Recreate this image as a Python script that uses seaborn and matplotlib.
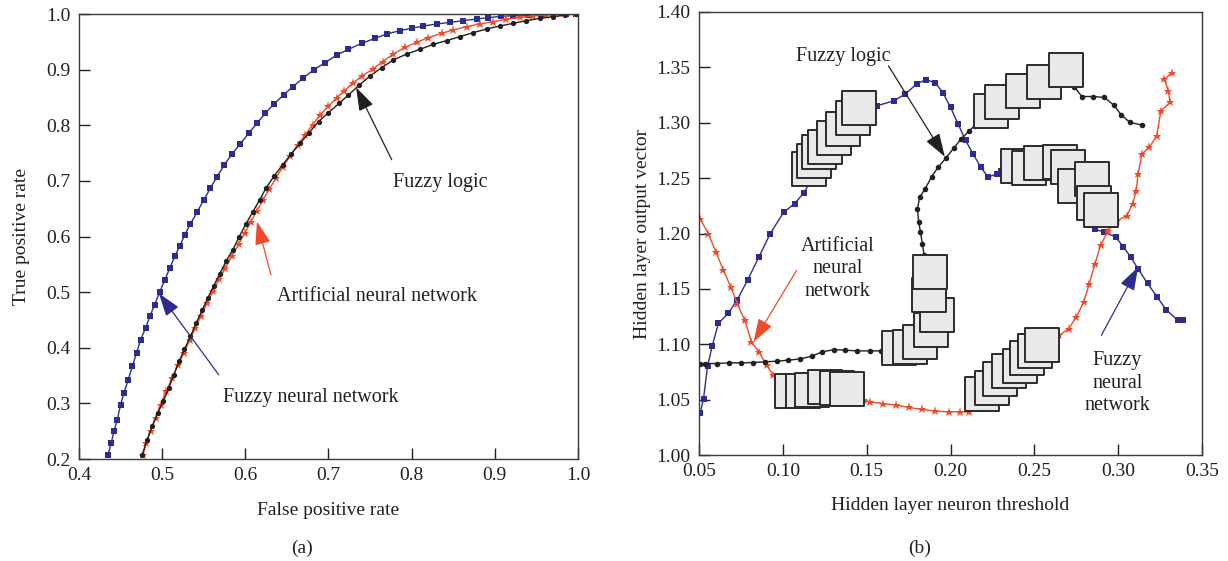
import numpy as np
import pandas as pd
import matplotlib
matplotlib.use("Agg")
import matplotlib.pyplot as plt
from matplotlib.ticker import FormatStrFormatter
import seaborn as sns

# ---------------- (a) ROC-like curves ----------------
fnn_fpr = [0.4348, 0.4388, 0.4420, 0.4460, 0.4500, 0.4540, 0.4592, 0.4640, 0.4692, 0.4740,
           0.4800, 0.4852, 0.4908, 0.4968, 0.5032, 0.5092, 0.5152, 0.5212, 0.5272, 0.5340,
           0.5420, 0.5500, 0.5580, 0.5660, 0.5748, 0.5840, 0.5940, 0.6040, 0.6140, 0.6240,
           0.6340, 0.6460, 0.6572, 0.6692, 0.6820, 0.6960, 0.7100, 0.7240, 0.7400, 0.7560,
           0.7700, 0.7860, 0.8000, 0.8140, 0.8300, 0.8460, 0.8620, 0.8780, 0.8920, 0.9080,
           0.9220, 0.9400, 0.9560, 0.9700, 0.9860, 0.9980]
fnn_tpr = [0.2078, 0.2287, 0.2497, 0.2707, 0.2976, 0.3186, 0.3425, 0.3665, 0.3904, 0.4144,
           0.4353, 0.4563, 0.4772, 0.4994, 0.5222, 0.5431, 0.5641, 0.5832, 0.6030, 0.6228,
           0.6437, 0.6659, 0.6868, 0.7078, 0.7287, 0.7485, 0.7665, 0.7856, 0.8036, 0.8216,
           0.8377, 0.8545, 0.8695, 0.8844, 0.8994, 0.9126, 0.9263, 0.9365, 0.9473, 0.9563,
           0.9641, 0.9701, 0.9743, 0.9784, 0.9820, 0.9850, 0.9880, 0.9910, 0.9934, 0.9958,
           0.9970, 0.9982, 0.9994, 0.9996, 0.9998, 1.0000]

fl_fpr = [0.4760, 0.4820, 0.4880, 0.4948, 0.5012, 0.5080, 0.5140, 0.5204, 0.5268, 0.5340,
          0.5408, 0.5480, 0.5548, 0.5620, 0.5692, 0.5768, 0.5848, 0.5928, 0.6008, 0.6092,
          0.6172, 0.6252, 0.6348, 0.6448, 0.6552, 0.6660, 0.6768, 0.6880, 0.7000, 0.7128,
          0.7240, 0.7372, 0.7500, 0.7640, 0.7780, 0.7940, 0.8100, 0.8260, 0.8420, 0.8580,
          0.8740, 0.8900, 0.9060, 0.9220, 0.9380, 0.9540, 0.9700, 0.9840, 0.9980]
fl_tpr = [0.2078, 0.2347, 0.2587, 0.2826, 0.3036, 0.3275, 0.3515, 0.3754, 0.3976, 0.4204,
          0.4443, 0.4671, 0.4892, 0.5114, 0.5329, 0.5551, 0.5760, 0.6000, 0.6228, 0.6449,
          0.6659, 0.6880, 0.7090, 0.7287, 0.7485, 0.7677, 0.7868, 0.8066, 0.8228, 0.8395,
          0.8545, 0.8725, 0.8886, 0.9036, 0.9174, 0.9281, 0.9365, 0.9455, 0.9521, 0.9593,
          0.9665, 0.9731, 0.9784, 0.9832, 0.9880, 0.9922, 0.9952, 0.9982, 1.0000]

ann_fpr = [0.4772, 0.4808, 0.4860, 0.4920, 0.4980, 0.5048, 0.5120, 0.5192, 0.5260, 0.5332,
           0.5400, 0.5468, 0.5540, 0.5612, 0.5688, 0.5760, 0.5840, 0.5920, 0.5992, 0.6068,
           0.6140, 0.6212, 0.6288, 0.6368, 0.6452, 0.6540, 0.6628, 0.6720, 0.6808, 0.6900,
           0.7000, 0.7100, 0.7192, 0.7292, 0.7400, 0.7532, 0.7652, 0.7780, 0.7920, 0.8060,
           0.8200, 0.8360, 0.8500, 0.8660, 0.8820, 0.8980, 0.9140, 0.9300, 0.9460, 0.9620,
           0.9780, 0.9980]
ann_tpr = [0.2078, 0.2287, 0.2497, 0.2737, 0.2976, 0.3216, 0.3455, 0.3695, 0.3904, 0.4144,
           0.4353, 0.4575, 0.4802, 0.5012, 0.5234, 0.5431, 0.5653, 0.5862, 0.6060, 0.6269,
           0.6461, 0.6659, 0.6850, 0.7048, 0.7257, 0.7449, 0.7647, 0.7826, 0.8006, 0.8186,
           0.8347, 0.8497, 0.8623, 0.8754, 0.8886, 0.9006, 0.9144, 0.9281, 0.9401, 0.9491,
           0.9575, 0.9653, 0.9713, 0.9772, 0.9820, 0.9862, 0.9904, 0.9940, 0.9964, 0.9982,
           1.0000, 1.0000]

# ---------------- (b) hidden layer output ----------------
fnn_thr = [0.0507, 0.0527, 0.0551, 0.0578, 0.0616, 0.0675, 0.0728, 0.0790, 0.0858, 0.0925,
           0.1004, 0.1070, 0.1127, 0.1160, 0.1250, 0.1400, 0.1563, 0.1664, 0.1731, 0.1798,
           0.1854, 0.1910, 0.1955, 0.2000, 0.2045, 0.2090, 0.2134, 0.2180, 0.2224, 0.2280,
           0.2302, 0.2450, 0.2650, 0.2760, 0.2840, 0.2862, 0.2918, 0.2985, 0.3030, 0.3074,
           0.3119, 0.3175, 0.3231, 0.3287, 0.3354, 0.3388]
fnn_out = [1.0375, 1.0510, 1.0800, 1.0980, 1.1190, 1.1280, 1.1400, 1.1580, 1.1790, 1.2000,
           1.2190, 1.2270, 1.2370, 1.2460, 1.2700, 1.2950, 1.3153, 1.3200, 1.3260, 1.3350,
           1.3390, 1.3360, 1.3270, 1.3140, 1.2990, 1.2840, 1.2720, 1.2600, 1.2510, 1.2540,
           1.2568, 1.2600, 1.2600, 1.2450, 1.2250, 1.2040, 1.2010, 1.1970, 1.1880, 1.1790,
           1.1680, 1.1550, 1.1430, 1.1310, 1.1220, 1.1220]

fl_thr = [0.0507, 0.0534, 0.0605, 0.0679, 0.0751, 0.0820, 0.0892, 0.0963, 0.1033, 0.1104,
          0.1172, 0.1234, 0.1306, 0.1373, 0.1445, 0.1519, 0.1586, 0.1700, 0.1820, 0.1900,
          0.1910, 0.1880, 0.1860, 0.1843, 0.1832, 0.1821, 0.1810, 0.1803, 0.1816, 0.1848,
          0.1888, 0.1926, 0.1973, 0.2018, 0.2063, 0.2112, 0.2145, 0.2240, 0.2430, 0.2560,
          0.2690, 0.2739, 0.2783, 0.2851, 0.2918, 0.2974, 0.3018, 0.3070, 0.3142]
fl_out = [1.0826, 1.0826, 1.0826, 1.0832, 1.0832, 1.0835, 1.0841, 1.0847, 1.0856, 1.0868,
          1.0892, 1.0931, 1.0952, 1.0946, 1.0940, 1.0940, 1.0940, 1.0960, 1.1020, 1.1150,
          1.1300, 1.1500, 1.1700, 1.1802, 1.1907, 1.2012, 1.2108, 1.2222, 1.2327, 1.2402,
          1.2514, 1.2598, 1.2682, 1.2769, 1.2853, 1.2928, 1.2973, 1.3100, 1.3290, 1.3370,
          1.3450, 1.3324, 1.3237, 1.3237, 1.3228, 1.3159, 1.3072, 1.3003, 1.2979]

ann_thr = [0.0507, 0.0556, 0.0601, 0.0646, 0.0690, 0.0728, 0.0773, 0.0813, 0.0858, 0.0903,
           0.0943, 0.1100, 0.1350, 0.1485, 0.1519, 0.1597, 0.1675, 0.1754, 0.1832, 0.1910,
           0.1989, 0.2056, 0.2112, 0.2250, 0.2400, 0.2550, 0.2649, 0.2705, 0.2750, 0.2795,
           0.2828, 0.2862, 0.2895, 0.2940, 0.2996, 0.3052, 0.3086, 0.3108, 0.3119, 0.3142,
           0.3186, 0.3231, 0.3254, 0.3310, 0.3299, 0.3276, 0.3321]
ann_out = [1.2132, 1.1997, 1.1832, 1.1667, 1.1517, 1.1366, 1.1216, 1.1021, 1.0931, 1.0811,
           1.0721, 1.0600, 1.0550, 1.0496, 1.0480, 1.0465, 1.0450, 1.0429, 1.0411, 1.0396,
           1.0390, 1.0390, 1.0390, 1.0600, 1.0780, 1.0990, 1.1081, 1.1141, 1.1246, 1.1381,
           1.1547, 1.1727, 1.1892, 1.2027, 1.2117, 1.2162, 1.2267, 1.2387, 1.2538, 1.2718,
           1.2778, 1.2883, 1.3108, 1.3183, 1.3288, 1.3393, 1.3453]

# big grey boxes sitting on the curves
fnn_box_thr = [0.1156, 0.1183, 0.1214, 0.1252, 0.1308, 0.1357, 0.1416, 0.1454,
               0.2405, 0.2470, 0.2542, 0.2654, 0.2703, 0.2743, 0.2844, 0.2853, 0.2898]
fnn_box_out = [1.2583, 1.2658, 1.2739, 1.2784, 1.2859, 1.2943, 1.3039, 1.3129,
               1.2607, 1.2589, 1.2634, 1.2643, 1.2598, 1.2429, 1.2495, 1.2273, 1.2213]
fl_box_thr = [0.1693, 0.1760, 0.1821, 0.1881, 0.1917, 0.1872, 0.1877,
              0.2239, 0.2309, 0.2432, 0.2555, 0.2687]
fl_box_out = [1.0964, 1.0973, 1.1018, 1.1132, 1.1264, 1.1447, 1.1652,
              1.3102, 1.3189, 1.3291, 1.3369, 1.3480]
ann_box_thr = [0.1053, 0.1120, 0.1172, 0.1250, 0.1322, 0.1384,
               0.2186, 0.2246, 0.2298, 0.2347, 0.2414, 0.2454, 0.2504, 0.2548]
ann_box_out = [1.0577, 1.0580, 1.0589, 1.0613, 1.0601, 1.0598,
               1.0547, 1.0607, 1.0688, 1.0757, 1.0808, 1.0880, 1.0940, 1.0997]

BLUE = "#2e2d8f"
RED = "#ef4a2a"
BLACK = "#231f20"

sns.set_style("ticks")
plt.rcParams["font.family"] = ["Liberation Serif", "DejaVu Serif"]
plt.rcParams["text.color"] = BLACK
plt.rcParams["axes.labelcolor"] = BLACK
plt.rcParams["xtick.color"] = BLACK
plt.rcParams["ytick.color"] = BLACK

fig = plt.figure(figsize=(12.28, 5.61), dpi=100)
ax1 = fig.add_axes([79 / 1228, 1 - 459 / 561, 499 / 1228, 445 / 561])
ax2 = fig.add_axes([699 / 1228, 1 - 455 / 561, 503 / 1228, 443 / 561])

FS = 14


def curve(ax, x, y, color, marker, ms):
    sns.lineplot(x=x, y=y, ax=ax, sort=False, estimator=None, color=color,
                 linewidth=1.0, marker=marker, markersize=ms,
                 markeredgewidth=0, markerfacecolor=color, zorder=2)


def arrow(ax, tail, head, color, lw=0.9):
    ax.annotate("", xy=head, xytext=tail,
                arrowprops=dict(arrowstyle="-|>,head_length=0.9,head_width=0.3",
                                mutation_scale=16, color=color, lw=lw,
                                shrinkA=0, shrinkB=0), zorder=5)


# ----- panel (a)
curve(ax1, fnn_fpr, fnn_tpr, BLUE, "s", 5.0)
curve(ax1, ann_fpr, ann_tpr, RED, "*", 6.5)
curve(ax1, fl_fpr, fl_tpr, BLACK, "o", 3.8)

ax1.text(0.834, 0.697, "Fuzzy logic", ha="center", va="center", fontsize=FS + 0.5)
arrow(ax1, (0.776, 0.738), (0.7332, 0.868), BLACK)
ax1.text(0.758, 0.492, "Artificial neural network", ha="center", va="center", fontsize=FS + 0.5)
arrow(ax1, (0.6308, 0.531), (0.614, 0.627), RED)
ax1.text(0.6788, 0.311, "Fuzzy neural network", ha="center", va="center", fontsize=FS + 0.5)
arrow(ax1, (0.568, 0.3515), (0.496, 0.498), BLUE)

ax1.set_xlim(0.4, 1.0)
ax1.set_ylim(0.2, 1.0)
ax1.set_xticks(np.arange(0.4, 1.01, 0.1))
ax1.set_yticks(np.arange(0.2, 1.01, 0.1))
ax1.xaxis.set_major_formatter(FormatStrFormatter("%.1f"))
ax1.yaxis.set_major_formatter(FormatStrFormatter("%.1f"))
ax1.set_xlabel("False positive rate", fontsize=FS)
ax1.set_ylabel("True positive rate", fontsize=FS)
ax1.xaxis.set_label_coords(0.5, -0.097)
ax1.yaxis.set_label_coords(-0.098, 0.5)

# ----- panel (b)
curve(ax2, fnn_thr, fnn_out, BLUE, "s", 5.0)
curve(ax2, ann_thr, ann_out, RED, "*", 6.5)
curve(ax2, fl_thr, fl_out, BLACK, "o", 4.0)

for bx, by in [(fnn_box_thr, fnn_box_out), (fl_box_thr, fl_box_out), (ann_box_thr, ann_box_out)]:
    sns.scatterplot(x=bx, y=by, ax=ax2, marker="s", s=24 ** 2, color="#e9e9eb",
                    edgecolor="#2b2b2b", linewidth=1.4, zorder=3)

ax2.text(0.1362, 1.3595, "Fuzzy logic", ha="center", va="center", fontsize=FS + 0.5)
arrow(ax2, (0.163, 1.3514), (0.1966, 1.2694), BLACK)
ax2.text(0.1328, 1.1682, "Artificial\nneural\nnetwork", ha="center", va="center",
         fontsize=FS + 0.5, linespacing=1.25)
arrow(ax2, (0.1082, 1.1667), (0.0825, 1.1021), RED)
ax2.text(0.2996, 1.0646, "Fuzzy\nneural\nnetwork", ha="center", va="center",
         fontsize=FS + 0.5, linespacing=1.25)
arrow(ax2, (0.290, 1.1081), (0.3119, 1.1697), BLUE)

ax2.set_xlim(0.05, 0.35)
ax2.set_ylim(1.00, 1.40)
ax2.set_xticks(np.arange(0.05, 0.351, 0.05))
ax2.set_yticks(np.arange(1.00, 1.401, 0.05))
ax2.xaxis.set_major_formatter(FormatStrFormatter("%.2f"))
ax2.yaxis.set_major_formatter(FormatStrFormatter("%.2f"))
ax2.set_xlabel("Hidden layer neuron threshold", fontsize=FS)
ax2.set_ylabel("Hidden layer output vector", fontsize=FS)
ax2.xaxis.set_label_coords(0.5, -0.095)
ax2.yaxis.set_label_coords(-0.095, 0.5)

for ax in (ax1, ax2):
    ax.tick_params(direction="in", length=8, width=1, labelsize=FS, pad=6,
                   top=False, right=False)
    for sp in ax.spines.values():
        sp.set_color("#3a3a3a")
        sp.set_linewidth(1.0)
    if ax.get_legend() is not None:
        ax.get_legend().remove()

fig.text(302 / 1228, 1 - 548 / 561, "(a)", ha="center", va="center", fontsize=FS)
fig.text(920 / 1228, 1 - 548 / 561, "(b)", ha="center", va="center", fontsize=FS)

fig.savefig("out.png", dpi=100)
